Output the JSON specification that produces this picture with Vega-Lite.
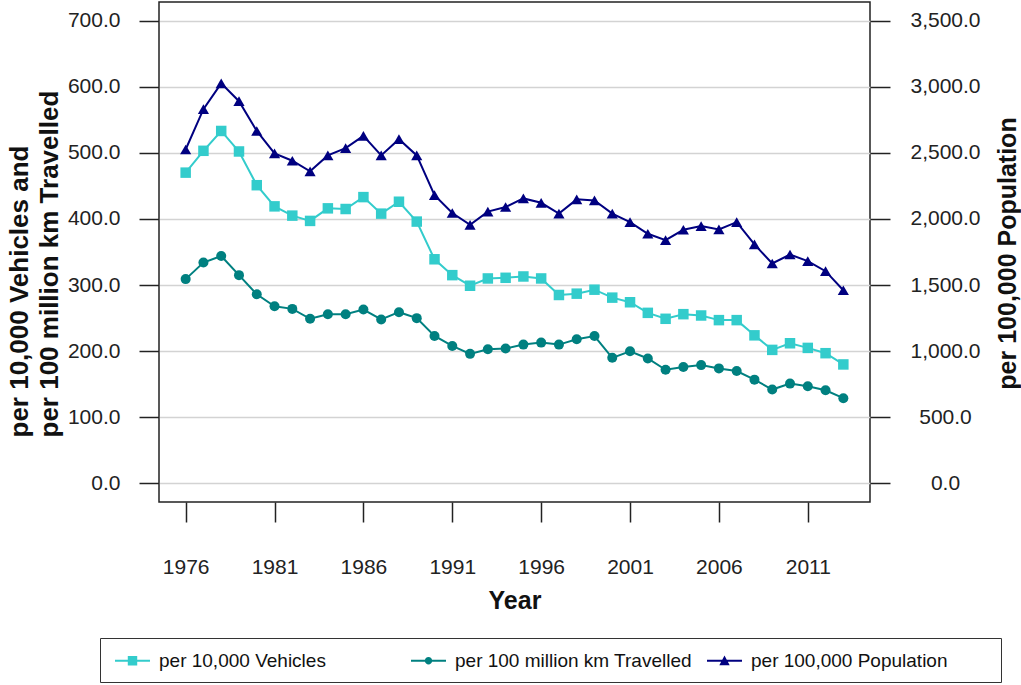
{
  "$schema": "https://vega.github.io/schema/vega-lite/v6.json",
  "autosize": {"type": "none"},
  "padding": {"left": 159, "top": 2, "right": 151, "bottom": 183},
  "width": 711,
  "height": 500,
  "background": "white",
  "config": {
    "view": {"stroke": "#222222", "strokeWidth": 1.5},
    "font": "Liberation Sans",
    "axis": {
      "domain": false,
      "tickColor": "#222222",
      "tickWidth": 1.5,
      "tickSize": 20,
      "labelFont": "Liberation Sans",
      "labelFontSize": 21,
      "labelColor": "#222222",
      "labelFlush": false,
      "labelOverlap": false,
      "titleFont": "Liberation Sans",
      "titleFontSize": 25,
      "titleFontWeight": "bold",
      "titleColor": "#111111",
      "gridColor": "#d3d3d3",
      "gridWidth": 1.5
    }
  },
  "data": {
    "values": [
      {"year": 1976, "series": "per 10,000 Vehicles", "value": 470},
      {"year": 1977, "series": "per 10,000 Vehicles", "value": 503},
      {"year": 1978, "series": "per 10,000 Vehicles", "value": 533},
      {"year": 1979, "series": "per 10,000 Vehicles", "value": 502},
      {"year": 1980, "series": "per 10,000 Vehicles", "value": 451},
      {"year": 1981, "series": "per 10,000 Vehicles", "value": 419},
      {"year": 1982, "series": "per 10,000 Vehicles", "value": 405},
      {"year": 1983, "series": "per 10,000 Vehicles", "value": 397},
      {"year": 1984, "series": "per 10,000 Vehicles", "value": 416},
      {"year": 1985, "series": "per 10,000 Vehicles", "value": 415},
      {"year": 1986, "series": "per 10,000 Vehicles", "value": 433},
      {"year": 1987, "series": "per 10,000 Vehicles", "value": 408},
      {"year": 1988, "series": "per 10,000 Vehicles", "value": 426},
      {"year": 1989, "series": "per 10,000 Vehicles", "value": 396},
      {"year": 1990, "series": "per 10,000 Vehicles", "value": 339},
      {"year": 1991, "series": "per 10,000 Vehicles", "value": 315},
      {"year": 1992, "series": "per 10,000 Vehicles", "value": 299},
      {"year": 1993, "series": "per 10,000 Vehicles", "value": 310},
      {"year": 1994, "series": "per 10,000 Vehicles", "value": 311},
      {"year": 1995, "series": "per 10,000 Vehicles", "value": 313},
      {"year": 1996, "series": "per 10,000 Vehicles", "value": 310},
      {"year": 1997, "series": "per 10,000 Vehicles", "value": 285},
      {"year": 1998, "series": "per 10,000 Vehicles", "value": 287},
      {"year": 1999, "series": "per 10,000 Vehicles", "value": 293},
      {"year": 2000, "series": "per 10,000 Vehicles", "value": 281},
      {"year": 2001, "series": "per 10,000 Vehicles", "value": 274},
      {"year": 2002, "series": "per 10,000 Vehicles", "value": 258},
      {"year": 2003, "series": "per 10,000 Vehicles", "value": 249},
      {"year": 2004, "series": "per 10,000 Vehicles", "value": 256},
      {"year": 2005, "series": "per 10,000 Vehicles", "value": 254},
      {"year": 2006, "series": "per 10,000 Vehicles", "value": 247},
      {"year": 2007, "series": "per 10,000 Vehicles", "value": 247},
      {"year": 2008, "series": "per 10,000 Vehicles", "value": 224},
      {"year": 2009, "series": "per 10,000 Vehicles", "value": 202},
      {"year": 2010, "series": "per 10,000 Vehicles", "value": 212},
      {"year": 2011, "series": "per 10,000 Vehicles", "value": 205},
      {"year": 2012, "series": "per 10,000 Vehicles", "value": 197},
      {"year": 2013, "series": "per 10,000 Vehicles", "value": 180},
      {"year": 1976, "series": "per 100 million km Travelled", "value": 309},
      {"year": 1977, "series": "per 100 million km Travelled", "value": 334},
      {"year": 1978, "series": "per 100 million km Travelled", "value": 344},
      {"year": 1979, "series": "per 100 million km Travelled", "value": 315},
      {"year": 1980, "series": "per 100 million km Travelled", "value": 286},
      {"year": 1981, "series": "per 100 million km Travelled", "value": 268},
      {"year": 1982, "series": "per 100 million km Travelled", "value": 264},
      {"year": 1983, "series": "per 100 million km Travelled", "value": 249},
      {"year": 1984, "series": "per 100 million km Travelled", "value": 256},
      {"year": 1985, "series": "per 100 million km Travelled", "value": 256},
      {"year": 1986, "series": "per 100 million km Travelled", "value": 263},
      {"year": 1987, "series": "per 100 million km Travelled", "value": 248},
      {"year": 1988, "series": "per 100 million km Travelled", "value": 259},
      {"year": 1989, "series": "per 100 million km Travelled", "value": 250},
      {"year": 1990, "series": "per 100 million km Travelled", "value": 223},
      {"year": 1991, "series": "per 100 million km Travelled", "value": 208},
      {"year": 1992, "series": "per 100 million km Travelled", "value": 196},
      {"year": 1993, "series": "per 100 million km Travelled", "value": 203},
      {"year": 1994, "series": "per 100 million km Travelled", "value": 204},
      {"year": 1995, "series": "per 100 million km Travelled", "value": 210},
      {"year": 1996, "series": "per 100 million km Travelled", "value": 213},
      {"year": 1997, "series": "per 100 million km Travelled", "value": 210},
      {"year": 1998, "series": "per 100 million km Travelled", "value": 218},
      {"year": 1999, "series": "per 100 million km Travelled", "value": 223},
      {"year": 2000, "series": "per 100 million km Travelled", "value": 190},
      {"year": 2001, "series": "per 100 million km Travelled", "value": 200},
      {"year": 2002, "series": "per 100 million km Travelled", "value": 189},
      {"year": 2003, "series": "per 100 million km Travelled", "value": 172},
      {"year": 2004, "series": "per 100 million km Travelled", "value": 176},
      {"year": 2005, "series": "per 100 million km Travelled", "value": 179},
      {"year": 2006, "series": "per 100 million km Travelled", "value": 174},
      {"year": 2007, "series": "per 100 million km Travelled", "value": 170},
      {"year": 2008, "series": "per 100 million km Travelled", "value": 157},
      {"year": 2009, "series": "per 100 million km Travelled", "value": 142},
      {"year": 2010, "series": "per 100 million km Travelled", "value": 151},
      {"year": 2011, "series": "per 100 million km Travelled", "value": 147},
      {"year": 2012, "series": "per 100 million km Travelled", "value": 141},
      {"year": 2013, "series": "per 100 million km Travelled", "value": 129},
      {"year": 1976, "series": "per 100,000 Population", "value": 2525},
      {"year": 1977, "series": "per 100,000 Population", "value": 2830},
      {"year": 1978, "series": "per 100,000 Population", "value": 3025},
      {"year": 1979, "series": "per 100,000 Population", "value": 2890},
      {"year": 1980, "series": "per 100,000 Population", "value": 2665},
      {"year": 1981, "series": "per 100,000 Population", "value": 2495},
      {"year": 1982, "series": "per 100,000 Population", "value": 2440},
      {"year": 1983, "series": "per 100,000 Population", "value": 2360},
      {"year": 1984, "series": "per 100,000 Population", "value": 2480},
      {"year": 1985, "series": "per 100,000 Population", "value": 2535},
      {"year": 1986, "series": "per 100,000 Population", "value": 2628},
      {"year": 1987, "series": "per 100,000 Population", "value": 2480},
      {"year": 1988, "series": "per 100,000 Population", "value": 2603},
      {"year": 1989, "series": "per 100,000 Population", "value": 2480},
      {"year": 1990, "series": "per 100,000 Population", "value": 2180},
      {"year": 1991, "series": "per 100,000 Population", "value": 2045},
      {"year": 1992, "series": "per 100,000 Population", "value": 1955},
      {"year": 1993, "series": "per 100,000 Population", "value": 2055},
      {"year": 1994, "series": "per 100,000 Population", "value": 2090},
      {"year": 1995, "series": "per 100,000 Population", "value": 2155},
      {"year": 1996, "series": "per 100,000 Population", "value": 2122},
      {"year": 1997, "series": "per 100,000 Population", "value": 2040},
      {"year": 1998, "series": "per 100,000 Population", "value": 2148},
      {"year": 1999, "series": "per 100,000 Population", "value": 2140},
      {"year": 2000, "series": "per 100,000 Population", "value": 2040},
      {"year": 2001, "series": "per 100,000 Population", "value": 1976},
      {"year": 2002, "series": "per 100,000 Population", "value": 1888},
      {"year": 2003, "series": "per 100,000 Population", "value": 1840},
      {"year": 2004, "series": "per 100,000 Population", "value": 1918},
      {"year": 2005, "series": "per 100,000 Population", "value": 1946},
      {"year": 2006, "series": "per 100,000 Population", "value": 1921},
      {"year": 2007, "series": "per 100,000 Population", "value": 1976},
      {"year": 2008, "series": "per 100,000 Population", "value": 1807},
      {"year": 2009, "series": "per 100,000 Population", "value": 1663},
      {"year": 2010, "series": "per 100,000 Population", "value": 1731},
      {"year": 2011, "series": "per 100,000 Population", "value": 1681},
      {"year": 2012, "series": "per 100,000 Population", "value": 1605},
      {"year": 2013, "series": "per 100,000 Population", "value": 1461}
    ]
  },
  "encoding": {
    "x": {
      "field": "year",
      "type": "quantitative",
      "scale": {"domain": [1974.5, 2014.5], "nice": false, "zero": false},
      "axis": {
        "values": [1976, 1981, 1986, 1991, 1996, 2001, 2006, 2011],
        "format": "d",
        "grid": false,
        "labelPadding": 34,
        "labelBaseline": "top",
        "title": "Year",
        "titleAlign": "center",
        "titleBaseline": "alphabetic",
        "titleX": 355.5,
        "titleY": 106
      }
    },
    "color": {
      "field": "series",
      "type": "nominal",
      "scale": {
        "domain": ["per 10,000 Vehicles", "per 100 million km Travelled", "per 100,000 Population"],
        "range": ["#33CCCC", "#008080", "#000080"]
      },
      "legend": {
        "title": null,
        "orient": "none",
        "legendX": -59,
        "legendY": 636,
        "direction": "horizontal",
        "columns": 3,
        "gridAlign": "all",
        "columnPadding": 9,
        "padding": 11,
        "strokeColor": "#333333",
        "symbolSize": 529,
        "symbolStrokeWidth": 0,
        "labelOffset": 25,
        "labelFont": "Liberation Sans",
        "labelFontSize": 19,
        "labelColor": "#111111",
        "labelLimit": 400,
        "labelExpr": "indexof(datum.label, 'Population') >= 0 ? datum.label + '\u2800\u2800\u2800' : datum.label"
      }
    }
  },
  "layer": [
    {
      "transform": [{"filter": "false"}],
      "mark": {"type": "point", "filled": true, "opacity": 1},
      "encoding": {
        "shape": {
          "field": "series",
          "type": "nominal",
          "scale": {
            "domain": ["per 10,000 Vehicles", "per 100 million km Travelled", "per 100,000 Population"],
            "range": [
              "M-0.652,-0.087H2.39V0.087H-0.652Z M0.46,-0.41H1.28V0.41H0.46Z",
              "M-0.652,-0.087H2.39V0.087H-0.652Z M1.19,0A0.32,0.32 0 1 1 0.55,0A0.32,0.32 0 1 1 1.19,0Z",
              "M-0.652,-0.087H2.39V0.087H-0.652Z M0.87,-0.45L1.32,0.4L0.42,0.4Z"
            ]
          },
          "legend": {"title": null}
        }
      }
    },
    {
      "transform": [{"filter": "datum.series !== 'per 100,000 Population'"}],
      "encoding": {
        "y": {
          "field": "value",
          "type": "quantitative",
          "scale": {"domain": [-28, 728], "nice": false, "zero": false},
          "axis": {
            "orient": "left",
            "values": [0, 100, 200, 300, 400, 500, 600, 700],
            "format": ".1f",
            "grid": true,
            "labelPadding": 19,
            "labelAlign": "right",
            "labelBaseline": "middle",
            "title": ["per 10,000 Vehicles and", "per 100 million km Travelled"],
            "titleAngle": 270,
            "titleAlign": "left",
            "titleBaseline": "alphabetic",
            "titleFontSize": 26,
            "titleLineHeight": 30,
            "titleX": -132,
            "titleY": 435
          }
        }
      },
      "layer": [
        {"mark": {"type": "line", "strokeWidth": 2}},
        {
          "transform": [{"filter": "datum.series === 'per 10,000 Vehicles'"}],
          "mark": {"type": "point", "filled": true, "opacity": 1, "size": 110, "shape": "square"}
        },
        {
          "transform": [{"filter": "datum.series === 'per 100 million km Travelled'"}],
          "mark": {"type": "point", "filled": true, "opacity": 1, "size": 100, "shape": "circle"}
        }
      ]
    },
    {
      "transform": [{"filter": "datum.series === 'per 100,000 Population'"}],
      "encoding": {
        "y": {
          "field": "value",
          "type": "quantitative",
          "scale": {"domain": [-140, 3640], "nice": false, "zero": false},
          "axis": {
            "orient": "right",
            "values": [0, 500, 1000, 1500, 2000, 2500, 3000, 3500],
            "format": ",.1f",
            "grid": false,
            "labelPadding": 55,
            "labelAlign": "center",
            "labelBaseline": "middle",
            "title": "per 100,000 Population",
            "titleAngle": 270,
            "titleAlign": "center",
            "titleBaseline": "alphabetic",
            "titleX": 145,
            "titleY": 251
          }
        }
      },
      "layer": [
        {"mark": {"type": "line", "strokeWidth": 2}},
        {"mark": {"type": "point", "filled": true, "opacity": 1, "size": 125, "shape": "triangle-up"}}
      ]
    }
  ],
  "resolve": {"scale": {"y": "independent"}}
}
